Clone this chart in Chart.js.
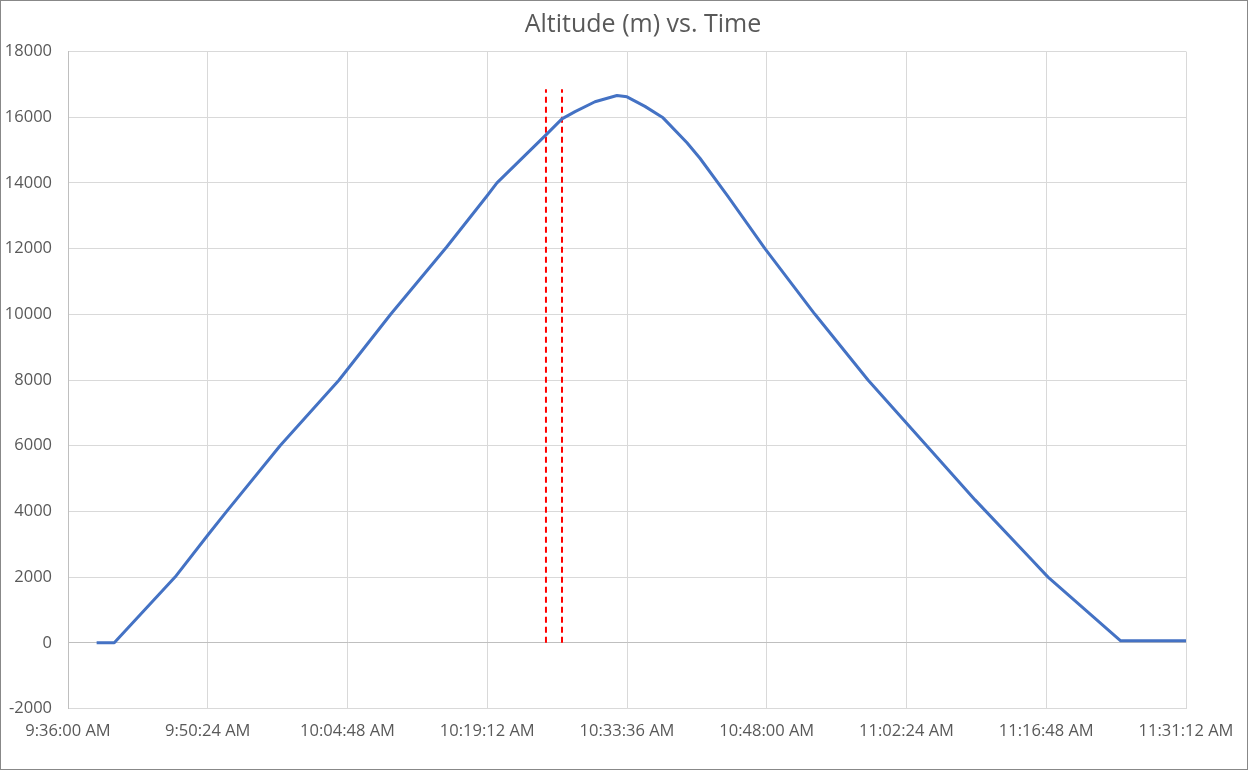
<!DOCTYPE html>
<html>
<head>
<meta charset="utf-8">
<script src="https://cdn.jsdelivr.net/npm/chart.js@4"></script>
<style>
  html, body { margin: 0; padding: 0; background: #fff; }
  #wrap { width: 1248px; height: 770px; }
</style>
</head>
<body>
<div id="wrap"><canvas id="altChart" width="1248" height="770"></canvas></div>
<script>
// flight log
const times = ['9:38:57', '9:40:46', '9:47:02', '9:50:26', '9:52:21', '9:57:51', '10:03:56',
    '10:09:15', '10:15:01', '10:19:10', '10:20:12', '10:25:15', '10:26:54', '10:28:15',
    '10:30:18', '10:32:34', '10:33:36', '10:35:27', '10:37:19', '10:39:47', '10:41:07',
    '10:44:00', '10:47:49', '10:52:58', '10:58:26', '11:04:29', '11:09:28', '11:15:18',
    '11:16:59', '11:24:28', '11:31:12'];
const altitudes = [0, 0, 2000, 3290, 4000, 6000, 8000,
    10000, 12050, 13600, 14000, 15460, 15950, 16170,
    16470, 16660, 16620, 16330, 15980, 15220, 14750,
    13590, 12000, 10000, 8000, 6000, 4350, 2530,
    2000, 60, 60];

// red dashed markers
const markerTimes = ['10:25:15', '10:26:54'];
const markerRange = [0, 16850];

const startTime = '9:36:00';
const endTime = '11:31:12';
const tickStep = 864; // 14:24
const yMin = -2000, yMax = 18000, yStep = 2000;

function toSec(s) {
    const p = s.split(':').map(Number);
    return p[0] * 3600 + p[1] * 60 + p[2];
}
const t0 = toSec(startTime);

function fmt(v) {
    const total = t0 + v;
    let h = Math.floor(total / 3600);
    const m = Math.floor((total % 3600) / 60);
    const s = Math.round(total % 60);
    const ampm = h >= 12 ? 'PM' : 'AM';
    if (h > 12) h -= 12;
    return h + ':' + String(m).padStart(2, '0') + ':' + String(s).padStart(2, '0') + ' ' + ampm;
}

const lineData = times.map((t, i) => ({ x: toSec(t) - t0, y: altitudes[i] }));
const markerSets = markerTimes.map(t => ({
    data: markerRange.map(y => ({ x: toSec(t) - t0, y: y })),
    borderColor: '#ff0000',
    borderWidth: 2,
    borderDash: [6, 4],
    pointRadius: 0,
    fill: false
}));

const fontFam = '"Open Sans", "Noto Sans", sans-serif';
const textColor = '#595959';

const decor = {
    id: 'decor',
    afterDraw(chart) {
        const c = chart.ctx;
        c.save();
        c.fillStyle = textColor;
        c.font = '25px ' + fontFam;
        c.textAlign = 'center';
        c.textBaseline = 'middle';
        c.fillText('Altitude (m) vs. Time', 643, 25);
        c.strokeStyle = '#888888';
        c.lineWidth = 1;
        c.strokeRect(0.5, 0.5, 1247, 769);
        c.restore();
    }
};

const ctx = document.getElementById('altChart').getContext('2d');
const altChart = new Chart(ctx, {
    type: 'line',
    data: {
        datasets: [{
            data: lineData,
            borderColor: '#4472c4',
            borderWidth: 3,
            pointRadius: 0,
            tension: 0,
            borderJoinStyle: 'round',
            fill: false
        }].concat(markerSets)
    },
    options: {
        responsive: false,
        animation: false,
        layout: { padding: { top: 51.5, left: 0, right: 62, bottom: 0 } },
        plugins: {
            legend: { display: false },
            title: { display: false },
            tooltip: { enabled: false }
        },
        scales: {
            x: {
                type: 'linear',
                min: 0,
                max: toSec(endTime) - t0,
                afterFit: s => { s.height = 61.5; },
                afterBuildTicks: s => {
                    s.ticks = [];
                    for (let v = 0; v <= s.max; v += tickStep) s.ticks.push({ value: v });
                },
                ticks: {
                    callback: v => fmt(v),
                    color: textColor,
                    font: { family: fontFam, size: 16.5 },
                    padding: 13,
                    maxRotation: 0,
                    autoSkip: false
                },
                grid: { color: '#d9d9d9', lineWidth: 1, drawTicks: false },
                border: { color: '#d9d9d9' }
            },
            y: {
                min: yMin,
                max: yMax,
                afterFit: s => { s.width = 68; },
                ticks: {
                    stepSize: yStep,
                    callback: v => String(v),
                    color: textColor,
                    font: { family: fontFam, size: 16.5 },
                    padding: 16
                },
                grid: {
                    color: c => (c.tick && c.tick.value === 0) ? '#bfbfbf' : '#d9d9d9',
                    lineWidth: 1,
                    drawTicks: false
                },
                border: { color: '#bfbfbf' }
            }
        }
    },
    plugins: [decor]
});
</script>
</body>
</html>
